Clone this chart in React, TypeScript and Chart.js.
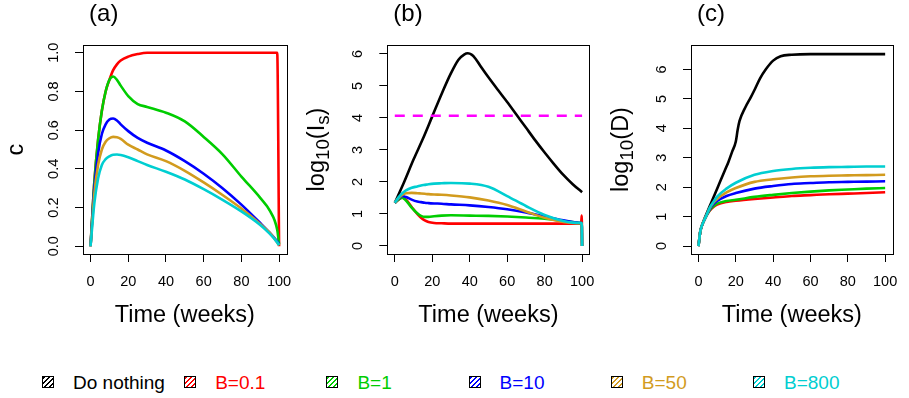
import React, { useEffect, useRef } from "react";
import { Chart, registerables } from "chart.js";

Chart.register(...registerables);

// ---------- data ----------
const seriesNames = ["Do nothing", "B=0.1", "B=1", "B=10", "B=50", "B=800"];
const seriesColors = ["#000000", "#FF0000", "#00CD00", "#0000FF", "#D29B1E", "#00CED1"];
const thresholdColor = "#FF00FF";

const xTicks = [0, 20, 40, 60, 80, 100];
const yTicksA = [0, 0.2, 0.4, 0.6, 0.8, 1.0];
const yTicksB = [0, 1, 2, 3, 4, 5, 6];
const yTicksC = [0, 1, 2, 3, 4, 5, 6];

// (a) control effort c
const weeksA = [0, 2, 4, 6, 8, 10, 12, 14, 16, 20, 25, 30, 40, 50, 60, 70, 80, 90, 95, 99, 100];
const cB01 = [0, 0.33, 0.55, 0.7, 0.8, 0.86, 0.91, 0.94, 0.96, 0.98, 0.993, 1, 1, 1, 1, 1, 1, 1, 1, 1, 0];
const cB1 = [0, 0.33, 0.55, 0.7, 0.8, 0.86, 0.877, 0.86, 0.83, 0.776, 0.735, 0.72, 0.69, 0.645, 0.565, 0.475, 0.36, 0.25, 0.185, 0.085, 0.01];
const cB10 = [0, 0.3, 0.48, 0.58, 0.63, 0.655, 0.66, 0.65, 0.63, 0.595, 0.56, 0.535, 0.495, 0.44, 0.375, 0.3, 0.215, 0.12, 0.07, 0.025, 0.012];
const cB50 = [0, 0.27, 0.42, 0.5, 0.54, 0.558, 0.565, 0.563, 0.555, 0.525, 0.5, 0.475, 0.44, 0.39, 0.33, 0.265, 0.195, 0.115, 0.07, 0.02, 0.005];
const cB800 = [0, 0.22, 0.35, 0.42, 0.45, 0.465, 0.473, 0.474, 0.472, 0.46, 0.44, 0.42, 0.385, 0.345, 0.295, 0.24, 0.18, 0.11, 0.065, 0.02, 0.005];

// (b) log10(Is)
const weeksBNothing = [0, 5, 10, 15, 20, 25, 30, 34, 37, 39, 41, 43, 46, 50, 55, 60, 65, 70, 75, 80, 85, 90, 95, 100];
const isNothing = [1.35, 2.0, 2.7, 3.35, 4.05, 4.75, 5.4, 5.82, 5.98, 6.02, 5.98, 5.86, 5.6, 5.27, 4.88, 4.5, 4.1, 3.7, 3.3, 2.92, 2.56, 2.22, 1.93, 1.68];
const weeksB = [0, 2, 4, 6, 9, 12, 14, 16, 18, 21, 25, 30, 40, 50, 60, 70, 80, 90, 95, 99.5, 99.8, 100];
const isB01 = [1.35, 1.45, 1.51, 1.45, 1.22, 1.0, 0.88, 0.8, 0.75, 0.72, 0.71, 0.7, 0.7, 0.7, 0.7, 0.7, 0.7, 0.7, 0.7, 0.7, 0.95, 0];
const isB1 = [1.35, 1.45, 1.51, 1.42, 1.2, 1.02, 0.94, 0.91, 0.91, 0.93, 0.95, 0.96, 0.95, 0.94, 0.92, 0.89, 0.85, 0.78, 0.75, 0.72, 0.72, 0];
const isB10 = [1.35, 1.48, 1.56, 1.53, 1.45, 1.39, 1.37, 1.35, 1.34, 1.33, 1.32, 1.3, 1.27, 1.22, 1.15, 1.05, 0.92, 0.8, 0.75, 0.72, 0.72, 0];
const isB50 = [1.35, 1.5, 1.6, 1.65, 1.66, 1.65, 1.64, 1.63, 1.62, 1.61, 1.6, 1.58, 1.52, 1.42, 1.28, 1.08, 0.88, 0.75, 0.72, 0.71, 0.71, 0];
const isB800 = [1.35, 1.52, 1.65, 1.74, 1.82, 1.86, 1.89, 1.91, 1.93, 1.95, 1.96, 1.97, 1.95, 1.85, 1.56, 1.25, 0.97, 0.78, 0.73, 0.72, 0.72, 0];
const thresholdWeeks = [0, 100];
const thresholdValues = [4.07, 4.07];

// (c) log10(D)
const weeksCNothing = [0, 1, 2, 4, 6, 8, 10, 12, 14, 16, 18, 20, 21, 22, 25, 28, 30, 33, 36, 40, 44, 50, 60, 100];
const dNothing = [0, 0.5, 0.72, 1.05, 1.35, 1.65, 1.95, 2.25, 2.55, 2.85, 3.2, 3.55, 3.95, 4.25, 4.7, 5.05, 5.3, 5.7, 6.0, 6.3, 6.45, 6.5, 6.52, 6.52];
const weeksC = [0, 1, 2, 4, 6, 8, 10, 15, 20, 30, 40, 50, 60, 70, 80, 90, 100];
const dB01 = [0, 0.5, 0.72, 1.0, 1.2, 1.33, 1.41, 1.5, 1.54, 1.6, 1.65, 1.7, 1.73, 1.76, 1.78, 1.8, 1.83];
const dB1 = [0, 0.5, 0.72, 1.0, 1.22, 1.35, 1.44, 1.53, 1.57, 1.67, 1.74, 1.8, 1.85, 1.89, 1.92, 1.95, 1.97];
const dB10 = [0, 0.5, 0.72, 1.0, 1.25, 1.42, 1.53, 1.7, 1.8, 1.95, 2.04, 2.11, 2.14, 2.17, 2.18, 2.19, 2.2];
const dB50 = [0, 0.5, 0.72, 1.0, 1.28, 1.47, 1.6, 1.82, 1.97, 2.18, 2.27, 2.33, 2.37, 2.39, 2.4, 2.41, 2.42];
const dB800 = [0, 0.5, 0.72, 1.0, 1.3, 1.5, 1.68, 1.95, 2.15, 2.42, 2.55, 2.62, 2.66, 2.68, 2.69, 2.7, 2.7];

// ---------- style ----------
const FONT = '"Liberation Sans", Arial, Helvetica, sans-serif';
const CANVAS_W = 303;
const CANVAS_H = 345;
const AREA_TOP = 45;
const AREA_BOTTOM = 254;
const TICK_FONT = 14.5;
const LAB_FONT = 23.5;

type Seg = { t: string; sub?: boolean };

type PanelSpec = {
  canvasLeft: number;
  areaLeft: number;
  areaRight: number;
  yMin: number;
  yMax: number;
  yTicks: number[];
  yFmt: (v: number) => string;
  yTitle: Seg[];
  yTitleOffset: number;
  label: string;
  datasets: any[];
};

function pts(xs: number[], ys: number[]) {
  return xs.map((x, i) => ({ x, y: ys[i] }));
}

function line(xs: number[], ys: number[], color: string, order: number, dash?: number[]) {
  return {
    data: pts(xs, ys),
    borderColor: color,
    backgroundColor: color,
    borderWidth: 2.6,
    pointRadius: 0,
    fill: false,
    cubicInterpolationMode: "monotone",
    borderDash: dash || [],
    order,
  };
}

function decorPlugin(spec: PanelSpec) {
  return {
    id: "rdecor",
    afterDraw(chart: any) {
      const ctx = chart.ctx as CanvasRenderingContext2D;
      const a = chart.chartArea;
      const ys = chart.scales.y;
      const xs = chart.scales.x;
      ctx.save();
      // box
      ctx.strokeStyle = "#000";
      ctx.lineWidth = 1;
      ctx.strokeRect(Math.round(a.left) + 0.5, Math.round(a.top) + 0.5, Math.round(a.right - a.left), Math.round(a.bottom - a.top));
      // y tick labels (rotated like R)
      ctx.fillStyle = "#000";
      ctx.font = `${TICK_FONT}px ${FONT}`;
      ctx.textAlign = "center";
      ctx.textBaseline = "middle";
      for (const v of spec.yTicks) {
        const py = ys.getPixelForValue(v);
        ctx.save();
        ctx.translate(a.left - 29, py);
        ctx.rotate(-Math.PI / 2);
        ctx.fillText(spec.yFmt(v), 0, 0);
        ctx.restore();
      }
      // y title with subscripts
      const big = `${LAB_FONT}px ${FONT}`;
      const small = `${LAB_FONT * 0.8}px ${FONT}`;
      let total = 0;
      const widths: number[] = [];
      for (const s of spec.yTitle) {
        ctx.font = s.sub ? small : big;
        const w = ctx.measureText(s.t).width;
        widths.push(w);
        total += w;
      }
      ctx.save();
      ctx.translate(a.left - spec.yTitleOffset, (a.top + a.bottom) / 2);
      ctx.rotate(-Math.PI / 2);
      ctx.textAlign = "left";
      ctx.textBaseline = "alphabetic";
      let cx = -total / 2;
      spec.yTitle.forEach((s, i) => {
        ctx.font = s.sub ? small : big;
        ctx.fillText(s.t, cx, s.sub ? LAB_FONT * 0.22 : 0);
        cx += widths[i];
      });
      ctx.restore();
      // panel label
      ctx.font = `${LAB_FONT + 0.5}px ${FONT}`;
      ctx.textAlign = "left";
      ctx.textBaseline = "alphabetic";
      ctx.fillText(spec.label, xs.getPixelForValue(0) - 1.5, 21);
      ctx.restore();
    },
  };
}

function Panel({ spec }: { spec: PanelSpec }) {
  const ref = useRef<HTMLCanvasElement>(null);
  useEffect(() => {
    if (!ref.current) return;
    const chart = new Chart(ref.current, {
      type: "line",
      data: { datasets: spec.datasets },
      options: {
        animation: false,
        responsive: false,
        devicePixelRatio: 1,
        events: [],
        layout: { padding: { top: AREA_TOP, left: 0, right: CANVAS_W - spec.areaRight, bottom: 0 } },
        plugins: { legend: { display: false }, tooltip: { enabled: false }, title: { display: false } },
        scales: {
          x: {
            type: "linear",
            min: -4,
            max: 104,
            afterBuildTicks: (s: any) => {
              s.ticks = xTicks.map((v) => ({ value: v }));
            },
            afterFit: (s: any) => {
              s.height = CANVAS_H - AREA_BOTTOM;
            },
            grid: { display: true, drawOnChartArea: false, drawTicks: true, tickLength: 8, color: "#000", lineWidth: 1 },
            border: { display: false },
            ticks: {
              autoSkip: false,
              maxRotation: 0,
              minRotation: 0,
              padding: 11.5,
              color: "#000",
              font: { size: TICK_FONT, family: FONT },
              callback: (v: any) => String(v),
            },
            title: {
              display: true,
              text: "Time (weeks)",
              color: "#000",
              font: { size: LAB_FONT, family: FONT },
              padding: { top: 0, bottom: 15.5 },
            },
          },
          y: {
            type: "linear",
            min: spec.yMin,
            max: spec.yMax,
            afterBuildTicks: (s: any) => {
              s.ticks = spec.yTicks.map((v) => ({ value: v }));
            },
            afterFit: (s: any) => {
              s.width = spec.areaLeft;
            },
            grid: { display: true, drawOnChartArea: false, drawTicks: true, tickLength: 8, color: "#000", lineWidth: 1 },
            border: { display: false },
            ticks: { display: false },
          },
        },
      } as any,
      plugins: [decorPlugin(spec)],
    });
    return () => chart.destroy();
  }, [spec]);
  return (
    <canvas
      ref={ref}
      width={CANVAS_W}
      height={CANVAS_H}
      style={{ position: "absolute", left: spec.canvasLeft, top: 0, width: CANVAS_W, height: CANVAS_H }}
    />
  );
}

const colored = (xs: number[], ys: number[][]) =>
  ys.map((y, i) => line(xs, y, seriesColors[i + 1], 5 - (i + 1)));

const panels: PanelSpec[] = [
  {
    canvasLeft: 0,
    areaLeft: 83,
    areaRight: 294.5,
    yMin: -0.04,
    yMax: 1.04,
    yTicks: yTicksA,
    yFmt: (v) => v.toFixed(1),
    yTitle: [{ t: "c" }],
    yTitleOffset: 60,
    label: "(a)",
    datasets: colored(weeksA, [cB01, cB1, cB10, cB50, cB800]),
  },
  {
    canvasLeft: 303,
    areaLeft: 84.3,
    areaRight: 294.7,
    yMin: -0.25,
    yMax: 6.28,
    yTicks: yTicksB,
    yFmt: (v) => String(v),
    yTitle: [{ t: "log" }, { t: "10", sub: true }, { t: "(I" }, { t: "s", sub: true }, { t: ")" }],
    yTitleOffset: 63,
    label: "(b)",
    datasets: [
      line(weeksBNothing, isNothing, seriesColors[0], 5),
      ...colored(weeksB, [isB01, isB1, isB10, isB50, isB800]),
      line(thresholdWeeks, thresholdValues, thresholdColor, -1, [10, 8]),
    ],
  },
  {
    canvasLeft: 606,
    areaLeft: 85,
    areaRight: 296.3,
    yMin: -0.27,
    yMax: 6.83,
    yTicks: yTicksC,
    yFmt: (v) => String(v),
    yTitle: [{ t: "log" }, { t: "10", sub: true }, { t: "(D)" }],
    yTitleOffset: 63,
    label: "(c)",
    datasets: [line(weeksCNothing, dNothing, seriesColors[0], 5), ...colored(weeksC, [dB01, dB1, dB10, dB50, dB800])],
  },
];

function Legend() {
  return (
    <>
      {seriesNames.map((name, i) => {
        const left = 42 + i * 142.2;
        const col = seriesColors[i];
        return (
          <React.Fragment key={name}>
            <div
              style={{
                position: "absolute",
                left,
                top: 376,
                width: 12,
                height: 12,
                boxSizing: "border-box",
                border: "1px solid #000",
                background: `repeating-linear-gradient(135deg, ${col} 0px, ${col} 1.6px, #fff 1.6px, #fff 3.6px)`,
              }}
            />
            <div
              style={{
                position: "absolute",
                left: left + 31,
                top: 373.2,
                height: 19,
                lineHeight: "19px",
                fontSize: 19,
                fontFamily: FONT,
                color: col,
                whiteSpace: "nowrap",
              }}
            >
              {name}
            </div>
          </React.Fragment>
        );
      })}
    </>
  );
}

export default function App() {
  return (
    <div style={{ position: "absolute", left: 0, top: 0, width: 909, height: 398, background: "#fff", overflow: "hidden" }}>
      {panels.map((p) => (
        <Panel key={p.label} spec={p} />
      ))}
      <Legend />
    </div>
  );
}
